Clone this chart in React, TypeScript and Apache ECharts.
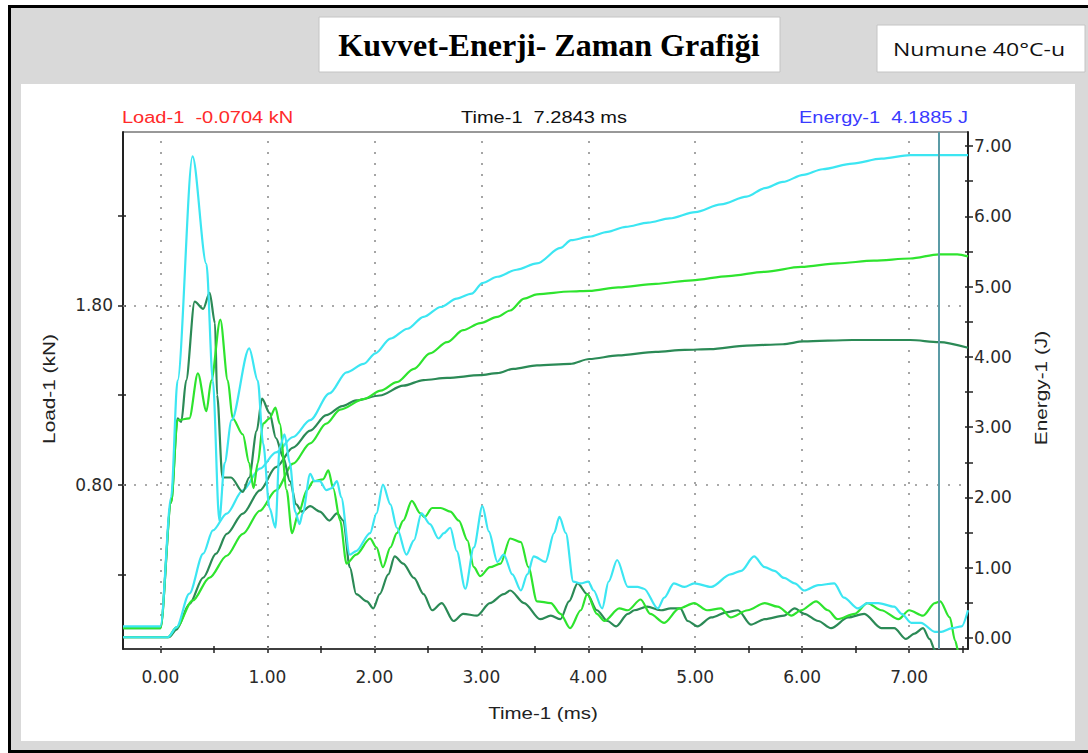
import React, { useEffect, useRef } from "react";
import * as echarts from "echarts";

// ---------- data (time in ms, load in kN, energy in J) ----------
const cyanLoad: [number, number][] = [
  [-0.35, 0.01], [0, 0.01], [0.1, 0.73], [0.16, 1.38], [0.3, 2.63], [0.43, 2.03], [0.49, 1.38], [0.55, 0.6],
  [0.6, 0.92], [0.665, 1.16], [0.83, 1.56], [0.91, 1.38], [0.96, 1.03], [1.02, 0.67], [1.075, 0.56], [1.115, 1.01],
  [1.16, 1.08], [1.21, 0.92], [1.26, 0.65], [1.3, 0.58], [1.33, 0.64], [1.4, 0.86], [1.44, 0.82], [1.49, 0.82],
  [1.55, 0.77], [1.6, 0.78], [1.65, 0.82], [1.69, 0.73], [1.77, 0.41], [1.83, 0.43], [1.96, 0.53], [2.02, 0.64],
  [2.08, 0.8], [2.15, 0.69], [2.21, 0.56], [2.3, 0.41], [2.37, 0.49], [2.44, 0.64], [2.52, 0.58], [2.6, 0.5],
  [2.65, 0.53], [2.71, 0.56], [2.77, 0.43], [2.85, 0.22], [2.93, 0.45], [3.01, 0.68], [3.07, 0.54], [3.15, 0.37],
  [3.21, 0.41], [3.29, 0.3], [3.37, 0.21], [3.43, 0.3], [3.49, 0.4], [3.6, 0.37], [3.68, 0.53], [3.73, 0.62],
  [3.79, 0.53], [3.86, 0.26], [3.93, 0.25], [4.0, 0.26], [4.05, 0.21], [4.13, 0.11], [4.19, 0.26], [4.27, 0.38],
  [4.37, 0.23], [4.46, 0.23], [4.52, 0.22], [4.65, 0.11], [4.71, 0.17], [4.8, 0.25], [4.9, 0.23], [4.99, 0.25],
  [5.15, 0.23], [5.33, 0.3], [5.43, 0.32], [5.55, 0.4], [5.65, 0.34], [5.74, 0.32], [5.83, 0.28], [5.93, 0.25],
  [6.02, 0.21], [6.15, 0.24], [6.3, 0.25], [6.39, 0.17], [6.52, 0.11], [6.61, 0.14], [6.71, 0.14], [6.86, 0.12],
  [6.93, 0.08], [7.02, 0.03], [7.11, 0.03], [7.24, -0.02], [7.3, -0.02], [7.4, 0.0], [7.49, 0.01], [7.55, 0.1],
];

const greenLoad: [number, number][] = [
  [-0.35, 0.0], [0, 0.0], [0.1, 0.7], [0.16, 1.16], [0.27, 1.17], [0.35, 1.42], [0.43, 1.21], [0.475, 1.38],
  [0.56, 1.72], [0.63, 1.38], [0.675, 1.17], [0.77, 1.08], [0.83, 0.92], [0.87, 0.78], [0.91, 0.92], [0.96, 1.14],
  [1.02, 1.17], [1.075, 1.23], [1.115, 1.14], [1.18, 0.77], [1.23, 0.53], [1.29, 0.64], [1.37, 0.77], [1.43, 0.82],
  [1.52, 0.83], [1.57, 0.88], [1.615, 0.78], [1.68, 0.6], [1.74, 0.36], [1.83, 0.41], [1.96, 0.5], [2.02, 0.45],
  [2.08, 0.34], [2.15, 0.45], [2.21, 0.53], [2.27, 0.6], [2.35, 0.71], [2.43, 0.64], [2.47, 0.62], [2.54, 0.67],
  [2.62, 0.67], [2.71, 0.65], [2.79, 0.6], [2.87, 0.49], [2.93, 0.34], [2.99, 0.29], [3.08, 0.34], [3.18, 0.36],
  [3.27, 0.5], [3.37, 0.48], [3.44, 0.34], [3.52, 0.15], [3.65, 0.14], [3.74, 0.08], [3.83, 0.0], [3.93, 0.1],
  [3.99, 0.19], [4.08, 0.08], [4.15, 0.04], [4.29, 0.11], [4.37, 0.1], [4.49, 0.16], [4.58, 0.08], [4.71, 0.03],
  [4.85, 0.11], [4.99, 0.14], [5.11, 0.1], [5.24, 0.11], [5.33, 0.06], [5.49, 0.1], [5.65, 0.14], [5.77, 0.12],
  [5.9, 0.07], [5.99, 0.1], [6.13, 0.15], [6.24, 0.1], [6.33, 0.05], [6.49, 0.08], [6.61, 0.14], [6.74, 0.1],
  [6.9, 0.05], [7.0, 0.1], [7.13, 0.07], [7.24, 0.14], [7.29, 0.15], [7.38, 0.06], [7.43, -0.07], [7.46, -0.13],
  [7.5, -0.3], [7.55, -0.3],
];

const darkLoad: [number, number][] = [
  [-0.35, 0.0], [0, 0.0], [0.1, 0.7], [0.16, 1.17], [0.195, 1.15], [0.24, 1.38], [0.32, 1.82], [0.4, 1.78],
  [0.46, 1.87], [0.51, 1.7], [0.53, 1.3], [0.58, 0.84], [0.66, 0.84], [0.77, 0.76], [0.83, 0.84], [0.9, 1.1],
  [0.95, 1.28], [1.02, 1.2], [1.08, 1.06], [1.15, 0.95], [1.21, 0.82], [1.27, 0.69], [1.32, 0.65], [1.4, 0.68],
  [1.49, 0.65], [1.58, 0.6], [1.65, 0.64], [1.71, 0.6], [1.77, 0.34], [1.83, 0.19], [1.93, 0.15], [1.99, 0.11],
  [2.05, 0.19], [2.13, 0.3], [2.19, 0.4], [2.27, 0.36], [2.37, 0.28], [2.46, 0.19], [2.54, 0.1], [2.63, 0.14],
  [2.74, 0.04], [2.83, 0.08], [2.96, 0.07], [3.08, 0.14], [3.21, 0.19], [3.27, 0.21], [3.4, 0.14], [3.55, 0.05],
  [3.65, 0.07], [3.74, 0.05], [3.82, 0.15], [3.9, 0.25], [3.99, 0.19], [4.08, 0.1], [4.18, 0.04], [4.26, 0.01],
  [4.37, 0.08], [4.43, 0.1], [4.55, 0.12], [4.68, 0.1], [4.77, 0.11], [4.86, 0.11], [4.93, 0.04], [5.02, 0.01],
  [5.15, 0.06], [5.3, 0.09], [5.4, 0.1], [5.52, 0.02], [5.65, 0.05], [5.83, 0.07], [5.93, 0.11], [6.02, 0.08],
  [6.15, 0.04], [6.27, 0.0], [6.43, 0.06], [6.58, 0.08], [6.74, 0.0], [6.86, 0.0], [6.97, -0.06], [7.05, -0.03],
  [7.13, 0.0], [7.19, -0.06], [7.24, -0.12], [7.3, -0.3], [7.55, -0.3],
];

const cyanEnergy: [number, number][] = [
  [-0.35, 0.01], [0.07, 0.01], [0.15, 0.15], [0.27, 0.63], [0.4, 1.2], [0.49, 1.53], [0.62, 1.77], [0.77, 2.1],
  [0.93, 2.41], [1.08, 2.64], [1.24, 2.86], [1.4, 3.1], [1.58, 3.48], [1.74, 3.78], [1.9, 3.9], [2.01, 4.05],
  [2.15, 4.26], [2.31, 4.4], [2.46, 4.57], [2.62, 4.71], [2.77, 4.83], [2.91, 4.9], [3.01, 5.05], [3.15, 5.14],
  [3.33, 5.24], [3.52, 5.33], [3.74, 5.55], [3.84, 5.66], [4.01, 5.71], [4.18, 5.78], [4.35, 5.85], [4.56, 5.91],
  [4.76, 5.97], [5.0, 6.06], [5.24, 6.17], [5.48, 6.28], [5.65, 6.4], [5.82, 6.49], [6.01, 6.59], [6.19, 6.67],
  [6.47, 6.75], [6.74, 6.82], [7.01, 6.87], [7.55, 6.87],
];

const greenEnergy: [number, number][] = [
  [-0.35, 0.01], [0.07, 0.01], [0.15, 0.15], [0.3, 0.53], [0.46, 0.86], [0.62, 1.17], [0.77, 1.48], [0.93, 1.81],
  [1.08, 2.1], [1.24, 2.48], [1.4, 2.77], [1.55, 3.05], [1.68, 3.25], [1.9, 3.4], [2.06, 3.52], [2.21, 3.64],
  [2.37, 3.83], [2.52, 4.05], [2.68, 4.21], [2.83, 4.38], [2.99, 4.48], [3.15, 4.57], [3.27, 4.66], [3.4, 4.83],
  [3.52, 4.89], [3.83, 4.93], [4.01, 4.94], [4.28, 4.99], [4.63, 5.04], [4.97, 5.09], [5.31, 5.15], [5.65, 5.21],
  [5.99, 5.28], [6.33, 5.33], [6.67, 5.37], [7.01, 5.4], [7.28, 5.46], [7.45, 5.46], [7.55, 5.43],
];

const darkEnergy: [number, number][] = [
  [-0.35, 0.01], [0.08, 0.01], [0.15, 0.12], [0.27, 0.48], [0.4, 0.86], [0.52, 1.2], [0.62, 1.48], [0.77, 1.77],
  [0.93, 2.1], [1.08, 2.43], [1.24, 2.71], [1.4, 2.95], [1.55, 3.17], [1.7, 3.3], [1.83, 3.38], [2.05, 3.45],
  [2.27, 3.59], [2.46, 3.67], [2.68, 3.7], [2.99, 3.74], [3.15, 3.77], [3.3, 3.83], [3.52, 3.88], [3.83, 3.9],
  [4.01, 3.97], [4.28, 4.02], [4.63, 4.07], [4.9, 4.1], [5.14, 4.11], [5.48, 4.16], [5.82, 4.18], [6.01, 4.22],
  [6.47, 4.24], [7.01, 4.24], [7.28, 4.21], [7.55, 4.13],
];

// ---------- axes ----------
const timeRange = [-0.35, 7.55];
const loadRange = [-0.116, 2.766];
const energyRange = [-0.157, 7.2];
const timeTicks = [0, 0.5, 1, 1.5, 2, 2.5, 3, 3.5, 4, 4.5, 5, 5.5, 6, 6.5, 7, 7.5];
const timeLabels = [0, 1, 2, 3, 4, 5, 6, 7];
const loadTicks = [0.3, 0.8, 1.3, 1.8, 2.3];
const loadLabels = [0.8, 1.8];
const energyTicks = [0, 0.5, 1, 1.5, 2, 2.5, 3, 3.5, 4, 4.5, 5, 5.5, 6, 6.5, 7];
const energyLabels = [0, 1, 2, 3, 4, 5, 6, 7];
const cursorTime = 7.2843;

const titleText = "Kuvvet-Enerji- Zaman Grafiği";
const sampleText = "Numune 40°C-u";
const loadReadout = "Load-1  -0.0704 kN";
const timeReadout = "Time-1  7.2843 ms";
const energyReadout = "Energy-1  4.1885 J";

const CYAN = "#3ce6f2";
const GREEN = "#2ee42e";
const DARK = "#2b8a56";
const AXIS = "#222";
const FONT = "'Liberation Sans', Arial, sans-serif";
const LABEL_FONT = "DejaVu Sans";

export default function App() {
  const ref = useRef<HTMLDivElement>(null);
  useEffect(() => {
    if (!ref.current) return;
    const chart = echarts.init(ref.current, undefined, { renderer: "svg" });
    const fmt = (v: number) => v.toFixed(2);
    const labelStyle = { color: "#2a2a2a", fontSize: 17, fontFamily: LABEL_FONT };
    const tickLine = { color: AXIS, width: 1.5 };

    const lineSeries = (data: [number, number][], color: string, yIdx: number, z: number) => ({
      type: "line",
      data,
      xAxisIndex: 0,
      yAxisIndex: yIdx,
      symbol: "none",
      showSymbol: false,
      smooth: 0.3,
      smoothMonotone: "x",
      lineStyle: { color, width: 2.2 },
      itemStyle: { color },
      silent: true,
      z,
    });

    const txt = (text: string, x: number, y: number, fill: string, font: string, align: string, extra: any = {}) => ({
      type: "text",
      z: 20,
      silent: true,
      x,
      y,
      ...extra,
      style: { text, fill, font, align, verticalAlign: "middle" },
    });

    chart.setOption({
      animation: false,
      backgroundColor: "#ffffff",
      grid: {
        left: 123,
        right: 120,
        top: 132,
        bottom: 104,
        show: true,
        borderColor: "#333",
        borderWidth: 1,
        backgroundColor: "transparent",
      },
      xAxis: [
        {
          type: "value",
          min: timeRange[0],
          max: timeRange[1],
          position: "bottom",
          axisLine: { show: true, onZero: false, lineStyle: { color: AXIS, width: 1.5 } },
          axisTick: { show: true, inside: false, length: 4, customValues: timeTicks, lineStyle: tickLine },
          axisLabel: { customValues: timeLabels, formatter: fmt, margin: 19, ...labelStyle },
          splitLine: { show: false },
        },
        {
          type: "value",
          min: timeRange[0],
          max: timeRange[1],
          position: "bottom",
          axisLine: { show: false, onZero: false },
          axisTick: { show: true, inside: true, length: 3, customValues: timeTicks, lineStyle: tickLine },
          axisLabel: { show: false },
          splitLine: { show: false },
        },
      ],
      yAxis: [
        {
          type: "value",
          min: loadRange[0],
          max: loadRange[1],
          position: "left",
          axisLine: { show: true, onZero: false, lineStyle: { color: AXIS, width: 2 } },
          axisTick: { show: true, inside: false, length: 5, customValues: loadTicks, lineStyle: tickLine },
          axisLabel: { customValues: loadLabels, formatter: fmt, margin: 10, ...labelStyle },
          splitLine: { show: false },
        },
        {
          type: "value",
          min: energyRange[0],
          max: energyRange[1],
          position: "right",
          axisLine: { show: true, onZero: false, lineStyle: { color: AXIS, width: 2 } },
          axisTick: { show: true, inside: false, length: 5, customValues: energyTicks, lineStyle: tickLine },
          axisLabel: { customValues: energyLabels, formatter: fmt, margin: 6, ...labelStyle },
          splitLine: { show: false },
        },
        {
          type: "value",
          min: loadRange[0],
          max: loadRange[1],
          position: "left",
          axisLine: { show: false, onZero: false },
          axisTick: { show: true, inside: true, length: 3, customValues: loadTicks, lineStyle: tickLine },
          axisLabel: { show: false },
          splitLine: { show: false },
        },
        {
          type: "value",
          min: energyRange[0],
          max: energyRange[1],
          position: "right",
          axisLine: { show: false, onZero: false },
          axisTick: { show: true, inside: true, length: 3, customValues: energyTicks, lineStyle: tickLine },
          axisLabel: { show: false },
          splitLine: { show: false },
        },
      ],
      series: [
        {
          type: "line",
          data: [],
          xAxisIndex: 0,
          yAxisIndex: 0,
          symbol: "none",
          silent: true,
          markLine: {
            silent: true,
            z: 1,
            symbol: ["none", "none"],
            label: { show: false },
            lineStyle: { color: "#8f8f8f", type: [2, 9], width: 1.6 },
            data: [
              ...timeLabels.map((v) => ({ xAxis: v })),
              ...loadLabels.map((v) => ({ yAxis: v })),
            ],
          },
        },
        lineSeries(darkEnergy, DARK, 1, 3),
        lineSeries(greenEnergy, GREEN, 1, 3),
        lineSeries(cyanEnergy, CYAN, 1, 3),
        lineSeries(darkLoad, DARK, 0, 4),
        lineSeries(greenLoad, GREEN, 0, 4),
        lineSeries(cyanLoad, CYAN, 0, 4),
        {
          type: "line",
          data: [],
          xAxisIndex: 0,
          yAxisIndex: 0,
          symbol: "none",
          silent: true,
          markLine: {
            silent: true,
            z: 10,
            symbol: ["none", "none"],
            label: { show: false },
            lineStyle: { color: "#5b9ba6", type: "solid", width: 2 },
            data: [{ xAxis: cursorTime }],
          },
        },
      ],
      graphic: [
        { type: "rect", z: -20, silent: true, shape: { x: 8, y: 5, width: 1090, height: 748 }, style: { fill: "#000" } },
        { type: "rect", z: -19, silent: true, shape: { x: 11, y: 8, width: 1080, height: 742 }, style: { fill: "#d9d9d9" } },
        { type: "rect", z: -18, silent: true, shape: { x: 21, y: 84, width: 1054, height: 657 }, style: { fill: "#ffffff" } },
        { type: "rect", z: -18, silent: true, shape: { x: 319, y: 17, width: 461, height: 55 }, style: { fill: "#ffffff", stroke: "#c4c4c4", lineWidth: 1 } },
        { type: "rect", z: -18, silent: true, shape: { x: 877, y: 25, width: 208, height: 47 }, style: { fill: "#ffffff", stroke: "#c4c4c4", lineWidth: 1 } },
        txt(titleText, 549, 45, "#000", "bold 32px 'Liberation Serif', 'Times New Roman', serif", "center"),
        txt(sampleText, 979, 49, "#111", "18px 'Open Sans', sans-serif", "center", { scaleX: 1.28 }),
        txt(loadReadout, 122, 118, "#ff2a2a", `16px ${FONT}`, "left", { scaleX: 1.25 }),
        txt(timeReadout, 544, 118, "#111", `16px ${FONT}`, "center", { scaleX: 1.25 }),
        txt(energyReadout, 968, 118, "#3a3aff", `16px ${FONT}`, "right", { scaleX: 1.25 }),
        txt("Load-1 (kN)", 49, 389, "#222", `16px ${FONT}`, "center", { rotation: Math.PI / 2, scaleX: 1.3 }),
        txt("Energy-1 (J)", 1041, 388, "#222", `16px ${FONT}`, "center", { rotation: Math.PI / 2, scaleX: 1.3 }),
        txt("Time-1 (ms)", 543, 713, "#222", `16px ${FONT}`, "center", { scaleX: 1.28 }),
      ],
    });
    return () => chart.dispose();
  }, []);

  return (
    <div
      ref={ref}
      style={{ position: "fixed", left: 0, top: 0, width: 1088, height: 753 }}
    />
  );
}
